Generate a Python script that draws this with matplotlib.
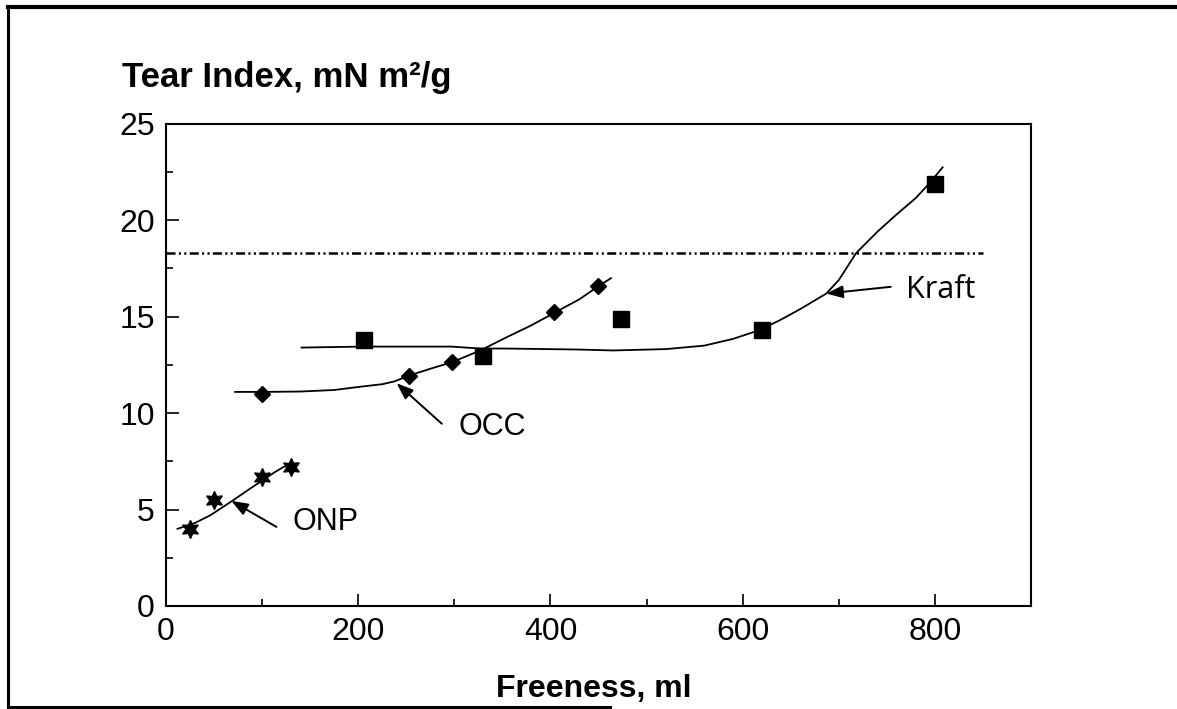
import matplotlib
matplotlib.use("Agg")
import matplotlib.pyplot as plt
from matplotlib.lines import Line2D

plt.rcParams['font.family'] = ['Liberation Sans', 'DejaVu Sans']
plt.rcParams['lines.scale_dashes'] = False

# measured points
onp_x = [25, 50, 100, 130]
onp_y = [4.0, 5.5, 6.7, 7.2]
occ_x = [100, 253, 298, 404, 449]
occ_y = [11.0, 11.95, 12.65, 15.25, 16.6]
kraft_x = [206, 330, 473, 620, 800]
kraft_y = [13.8, 12.95, 14.9, 14.3, 21.9]

# hand-drawn fit curves
onp_fit_x = [12, 30, 46, 69, 85, 100, 112, 122, 130, 136]
onp_fit_y = [4.0, 4.3, 4.7, 5.45, 6.0, 6.5, 6.9, 7.2, 7.35, 7.4]
occ_fit_x = [72, 100, 140, 175, 204, 225, 238, 253, 275, 298, 327, 353, 380, 404, 430, 449, 463]
occ_fit_y = [11.1, 11.1, 11.12, 11.2, 11.38, 11.5, 11.65, 11.95, 12.3, 12.65, 13.25, 13.9,
             14.55, 15.2, 15.9, 16.55, 17.0]
kraft_fit_x = [141, 204, 297, 327, 353, 427, 465, 520, 560, 590, 617, 638, 660, 687, 700,
               718, 740, 760, 780, 794, 808]
kraft_fit_y = [13.4, 13.45, 13.45, 13.35, 13.35, 13.3, 13.25, 13.32, 13.5, 13.85, 14.3, 14.8,
               15.4, 16.2, 16.9, 18.3, 19.4, 20.3, 21.15, 21.9, 22.75]

target_level = 18.3
target_span = [0, 850]

fig = plt.figure(figsize=(11.77, 7.09), dpi=100)
ax = fig.add_axes([0.141, 0.1453, 0.735, 0.680])

ax.plot(onp_fit_x, onp_fit_y, color='k', lw=1.3)
ax.plot(occ_fit_x, occ_fit_y, color='k', lw=1.3)
ax.plot(kraft_fit_x, kraft_fit_y, color='k', lw=1.3)

ax.plot(onp_x, onp_y, ls='none', marker=(6, 1, 0), ms=13, color='k')
ax.plot(occ_x, occ_y, ls='none', marker='D', ms=8.5, color='k')
ax.plot(kraft_x, kraft_y, ls='none', marker='s', ms=11.5, color='k')

ax.plot(target_span, [target_level, target_level], color='k', lw=1.8,
        dashes=[6.5, 2.4, 1.5, 2.4, 1.5, 2.4])

arrow = dict(arrowstyle='-|>,head_length=1.0,head_width=0.38', color='k', lw=1.4,
             shrinkA=0, shrinkB=0)
ax.annotate('', xy=(68, 5.45), xytext=(115, 4.1), arrowprops=arrow)
ax.annotate('', xy=(240, 11.55), xytext=(287, 9.45), arrowprops=arrow)
ax.annotate('', xy=(687, 16.2), xytext=(754, 16.55), arrowprops=arrow)

ax.text(132, 4.35, 'ONP', fontsize=22, va='center', ha='left')
ax.text(304, 9.3, 'OCC', fontsize=22, va='center', ha='left')
ax.text(770, 16.4, 'Kraft', fontsize=22, va='center', ha='left',
        family=['Open Sans', 'DejaVu Sans'])

ax.set_xlim(0, 900)
ax.set_ylim(0, 25)
ax.set_xticks([0, 200, 400, 600, 800])
ax.set_xticks([100, 300, 500, 700], minor=True)
ax.set_yticks([0, 5, 10, 15, 20, 25])
ax.set_yticks([2.5, 7.5, 12.5, 17.5, 22.5], minor=True)
ax.tick_params(which='both', direction='in', labelsize=23, width=1.2, pad=8)
ax.tick_params(which='major', length=9)
ax.tick_params(which='minor', length=5)
for s in ax.spines.values():
    s.set_linewidth(1.5)

fig.text(122 / 1177, 1 - 87 / 709, 'Tear Index, mN m²/g', fontsize=25,
         fontweight='bold', ha='left', va='baseline')
fig.text(594 / 1177, 1 - 697 / 709, 'Freeness, ml', fontsize=23,
         fontweight='bold', ha='center', va='baseline')

# outer frame
fig.add_artist(Line2D([8 / 1177, 8 / 1177], [1 - 7 / 709, 1 - 707 / 709],
                      transform=fig.transFigure, color='k', lw=2.2))
fig.add_artist(Line2D([8 / 1177, 1.0], [1 - 7 / 709, 1 - 7 / 709],
                      transform=fig.transFigure, color='k', lw=3))
fig.add_artist(Line2D([8 / 1177, 610 / 1177], [1 - 707 / 709, 1 - 707 / 709],
                      transform=fig.transFigure, color='k', lw=2.2))

fig.savefig('out.png', dpi=100, facecolor='white')
